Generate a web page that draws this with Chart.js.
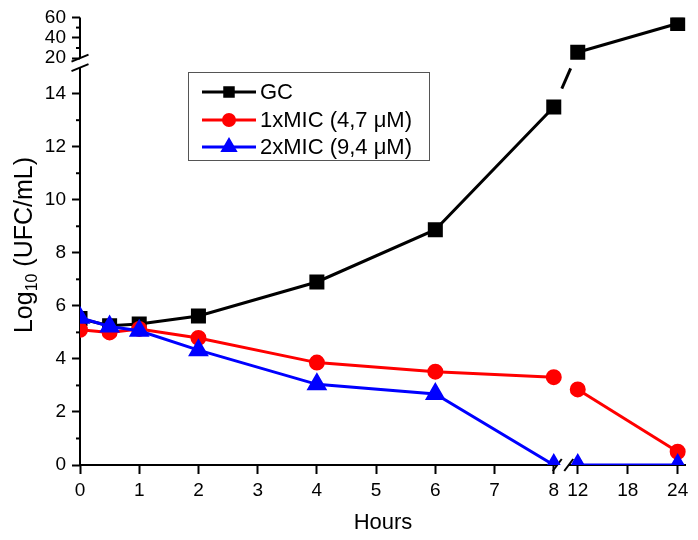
<!DOCTYPE html>
<html>
<head>
<meta charset="utf-8">
<script src="https://cdn.jsdelivr.net/npm/chart.js@4.4.1/dist/chart.umd.min.js"></script>
<style>
  body { margin: 0; background: #fff; }
  #wrap { width: 698px; height: 540px; }
</style>
</head>
<body>
<div id="wrap"><canvas id="killChart"></canvas></div>
<script>
const hours = [0, 0.5, 1, 2, 4, 6, 8, 12, 24];
const gc = [5.52, 5.25, 5.32, 5.62, 6.9, 8.87, 13.5, 25.8, 54];
const mic1 = [5.1, 5.0, 5.13, 4.79, 3.86, 3.52, 3.31, 2.85, 0.5];
const mic2 = [5.55, 5.22, 5.06, 4.33, 3.04, 2.68, 0, 0, 0];
const seriesLabels = ['GC', '1xMIC (4,7 μM)', '2xMIC (9,4 μM)'];

const xTicks = [0, 1, 2, 3, 4, 5, 6, 7, 8, 12, 18, 24];
const yTicks = [0, 2, 4, 6, 8, 10, 12, 14, 20, 40, 60];
const yMinorTicks = [1, 3, 5, 7, 9, 11, 13, 30, 50];

// broken axes: value -> position along the axis (px from the axis start)
const axisMaps = {
  x: [[0, 0], [8, 474], [12, 498], [25, 606.3]],
  y: [[0, 0], [15, 400], [20, 409], [60, 450]]
};
const axisTicks = { x: xTicks, y: yTicks };

function mapThrough(pairs, v, from, to) {
  for (let i = 1; i < pairs.length; i++) {
    const a = pairs[i - 1], b = pairs[i];
    if (v <= b[from] || i === pairs.length - 1) {
      return a[to] + (v - a[from]) * (b[to] - a[to]) / (b[from] - a[from]);
    }
  }
}

class BrokenScale extends Chart.LinearScale {
  static id = 'broken';
  buildTicks() {
    return axisTicks[this.id].map(v => ({ value: v }));
  }
  getPixelForValue(value) {
    if (value === null || value === undefined) return NaN;
    return super.getPixelForValue(mapThrough(axisMaps[this.id], value, 0, 1));
  }
  getValueForPixel(pixel) {
    return mapThrough(axisMaps[this.id], super.getValueForPixel(pixel), 1, 0);
  }
}
Chart.register(BrokenScale);

const font = 'Liberation Sans, Arial, sans-serif';

function line(ctx, x1, y1, x2, y2) {
  ctx.beginPath();
  ctx.moveTo(x1, y1);
  ctx.lineTo(x2, y2);
  ctx.stroke();
}

const brokenAxes = {
  id: 'brokenAxes',
  beforeDatasetsDraw(chart) {
    const { ctx, chartArea: a, scales: { x, y } } = chart;
    ctx.save();
    ctx.strokeStyle = '#000';
    ctx.lineWidth = 2;
    const y15 = y.getPixelForValue(15), y20 = y.getPixelForValue(20);
    line(ctx, a.left, a.bottom + 1, a.left, y15);
    line(ctx, a.left, y20, a.left, a.top);
    const x8 = x.getPixelForValue(8) + 3.5, x12 = x.getPixelForValue(12) - 9;
    line(ctx, a.left - 1, a.bottom, x8, a.bottom);
    line(ctx, x12, a.bottom, a.right, a.bottom);
    yMinorTicks.forEach(v => {
      const py = y.getPixelForValue(v);
      line(ctx, a.left - 4, py, a.left, py);
    });
    // break marks
    [y15 + 0.5, y20].forEach(py => line(ctx, a.left - 8.5, py + 3.5, a.left + 8.5, py - 3.5));
    [x8, x12].forEach(px => line(ctx, px - 4.5, a.bottom + 6, px + 4.5, a.bottom - 6));
    ctx.restore();
  }
};

const yTitle = {
  id: 'yTitle',
  afterDraw(chart) {
    const { ctx } = chart;
    ctx.save();
    ctx.translate(23, 245);
    ctx.rotate(-Math.PI / 2);
    ctx.fillStyle = '#000';
    ctx.textBaseline = 'alphabetic';
    ctx.textAlign = 'left';
    const big = '25px ' + font, small = '16px ' + font;
    ctx.font = big;
    const w1 = ctx.measureText('Log').width, w3 = ctx.measureText(' (UFC/mL)').width;
    ctx.font = small;
    const w2 = ctx.measureText('10').width;
    let px = -(w1 + w2 + w3) / 2;
    ctx.font = big;
    ctx.fillText('Log', px, 8.5);
    px += w1;
    ctx.font = small;
    ctx.fillText('10', px, 14);
    px += w2;
    ctx.font = big;
    ctx.fillText(' (UFC/mL)', px, 8.5);
    ctx.restore();
  }
};

const boxLegend = {
  id: 'boxLegend',
  afterDatasetsDraw(chart) {
    const { ctx } = chart;
    ctx.save();
    ctx.fillStyle = '#fff';
    ctx.fillRect(188, 72, 241, 88);
    ctx.strokeStyle = '#555';
    ctx.lineWidth = 1;
    ctx.strokeRect(188.5, 72.5, 241, 88);
    const rows = [92, 120, 147];
    const legendRadius = [6, 5.5, 7];
    chart.data.datasets.forEach((ds, i) => {
      const ry = rows[i];
      ctx.strokeStyle = ds.borderColor;
      ctx.fillStyle = ds.backgroundColor;
      ctx.lineWidth = 3;
      line(ctx, 202, ry, 256, ry);
      Chart.helpers.drawPoint(ctx, {
        pointStyle: ds.pointStyle, radius: legendRadius[i], rotation: 0, borderWidth: 1
      }, 229, ry);
      ctx.fillStyle = '#000';
      ctx.font = '22px ' + font;
      ctx.textBaseline = 'middle';
      ctx.textAlign = 'left';
      ctx.fillText(ds.label, 260, ry + 1);
    });
    ctx.restore();
  }
};

function series(values) {
  return hours.map((h, i) => ({ x: h, y: values[i] }));
}

const tickFont = { family: font, size: 19 };

new Chart(document.getElementById('killChart'), {
  type: 'line',
  data: {
    datasets: [
      {
        label: seriesLabels[0], data: series(gc), order: 3,
        borderColor: '#000', backgroundColor: '#000', borderWidth: 3,
        pointStyle: 'rect', pointRadius: 8.5,
        segment: { borderDash: c => c.p0DataIndex === 6 ? [0, 20, 22, 1000] : undefined }
      },
      {
        label: seriesLabels[1], data: series(mic1), order: 2,
        borderColor: '#ff0000', backgroundColor: '#ff0000', borderWidth: 3,
        pointStyle: 'circle', pointRadius: 6.5,
        segment: { borderColor: c => c.p0DataIndex === 6 ? 'rgba(0,0,0,0)' : undefined }
      },
      {
        label: seriesLabels[2], data: series(mic2), order: 1,
        borderColor: '#0000ff', backgroundColor: '#0000ff', borderWidth: 3,
        pointStyle: 'triangle', pointRadius: 9,
        segment: { borderColor: c => c.p0DataIndex === 6 ? 'rgba(0,0,0,0)' : undefined }
      }
    ]
  },
  options: {
    responsive: true,
    maintainAspectRatio: false,
    animation: false,
    layout: { padding: { top: 15, right: 12, left: 0, bottom: 0 } },
    plugins: { legend: { display: false }, tooltip: { enabled: false } },
    elements: { point: { borderWidth: 1 }, line: { tension: 0 } },
    scales: {
      x: {
        type: 'broken', min: 0, max: 606.3, bounds: 'data',
        afterFit: s => { s.height = 75; },
        border: { display: false },
        grid: { drawOnChartArea: false, tickLength: 9, tickWidth: 2, tickColor: '#000' },
        ticks: { autoSkip: false, maxRotation: 0, padding: 5, color: '#000', font: tickFont, callback: v => String(v) },
        title: { display: true, text: 'Hours', color: '#000', font: { family: font, size: 22 } }
      },
      y: {
        type: 'broken', min: 0, max: 450, bounds: 'data',
        afterFit: s => { s.width = 80; },
        border: { display: false },
        grid: { drawOnChartArea: false, tickLength: 8, tickWidth: 2, tickColor: '#000' },
        ticks: { autoSkip: false, padding: 6, color: '#000', font: tickFont, callback: v => String(v) }
      }
    }
  },
  plugins: [brokenAxes, boxLegend, yTitle]
});
</script>
</body>
</html>
